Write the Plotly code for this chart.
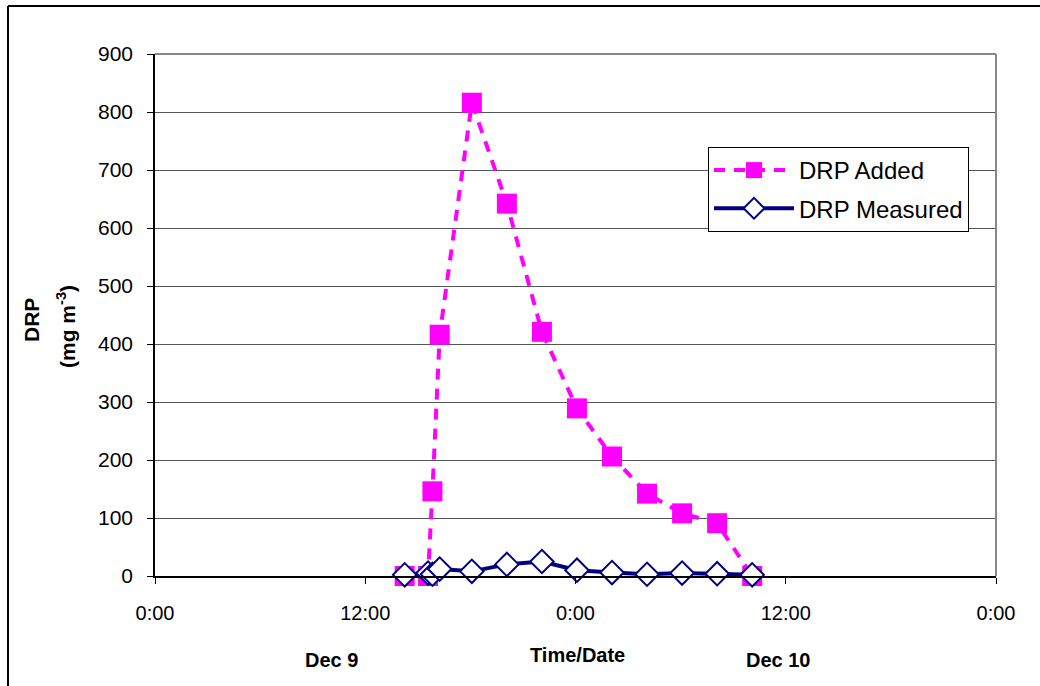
import plotly.graph_objects as go

# Data
added_times = ["2000-12-09 14:15", "2000-12-09 15:35", "2000-12-09 15:50", "2000-12-09 16:15",
               "2000-12-09 18:05", "2000-12-09 20:05", "2000-12-09 22:05", "2000-12-10 00:05",
               "2000-12-10 02:05", "2000-12-10 04:05", "2000-12-10 06:05", "2000-12-10 08:05",
               "2000-12-10 10:05"]
drp_added = [0, 0, 146, 416, 816, 642, 421, 289, 206, 142, 108, 91, 0]

measured_times = added_times
drp_measured = [2, 5, 3, 12, 8, 20, 25, 10, 6, 3, 5, 4, 2]

x_tick_vals = ["2000-12-09 00:00", "2000-12-09 12:00", "2000-12-10 00:00",
               "2000-12-10 12:00", "2000-12-11 00:00"]
x_tick_text = ["0:00", "12:00", "0:00", "12:00", "0:00"]
y_ticks = [0, 100, 200, 300, 400, 500, 600, 700, 800, 900]

FONT = "Liberation Sans, Arial, sans-serif"

fig = go.Figure()
fig.add_trace(go.Scatter(
    x=added_times, y=drp_added, name="DRP Added", mode="lines+markers",
    legendgroup="a", cliponaxis=False,
    line=dict(color="#FF00FF", width=4, dash="11px,9px"),
    marker=dict(symbol="square", size=20, color="#FF00FF"),
))
fig.add_trace(go.Scatter(
    x=measured_times, y=drp_measured, name="DRP Measured", mode="lines+markers",
    legendgroup="b", cliponaxis=False,
    line=dict(color="#000080", width=4),
    marker=dict(symbol="diamond", size=18, color="white",
                line=dict(color="#000080", width=2)),
))

L, R, T, B = 155, 44, 54, 110
W, H = 1040, 686
pw, ph = W - L - R, H - T - B

def px(x):
    return (x - L) / pw

def py(y):
    return (H - B - y) / ph

fig.update_layout(
    width=W, height=H,
    margin=dict(l=L, r=R, t=T, b=B),
    paper_bgcolor="white", plot_bgcolor="white",
    font=dict(family=FONT, size=20, color="black"),
    showlegend=True,
    legend=dict(
        x=px(708), y=py(147), xanchor="left", yanchor="top",
        bgcolor="white", bordercolor="black", borderwidth=1,
        font=dict(family=FONT, size=24),
        itemwidth=80, tracegroupgap=4,
    ),
    xaxis=dict(
        type="date",
        range=["2000-12-09 00:00", "2000-12-11 00:00"],
        tickmode="array", tickvals=x_tick_vals, ticktext=x_tick_text,
        ticks="outside", ticklen=6, tickcolor="black", tickwidth=1,
        showline=True, linecolor="black", linewidth=1.5,
        showgrid=False, zeroline=False,
        tickfont=dict(family=FONT, size=20),
        ticklabelstandoff=12,
    ),
    yaxis=dict(
        range=[0, 900], tickmode="array", tickvals=y_ticks,
        ticks="outside", ticklen=6, tickcolor="black", tickwidth=1,
        showline=True, linecolor="black", linewidth=1.5,
        showgrid=True, gridcolor="#555555", gridwidth=1,
        zeroline=False,
        tickfont=dict(family=FONT, size=21),
        ticklabelstandoff=10,
    ),
)

# Plot area top/right border (gray)
fig.add_shape(type="line", xref="paper", yref="paper", x0=0, x1=1, y0=1, y1=1,
              line=dict(color="#888888", width=2))
fig.add_shape(type="line", xref="paper", yref="paper", x0=1, x1=1, y0=0, y1=1,
              line=dict(color="#888888", width=2))
# Outer chart border (top and left visible)
fig.add_shape(type="line", xref="paper", yref="paper", x0=px(8), x1=px(1050),
              y0=py(6), y1=py(6), line=dict(color="black", width=2))
fig.add_shape(type="line", xref="paper", yref="paper", x0=px(8), x1=px(8),
              y0=py(6), y1=py(700), line=dict(color="black", width=2))

def note(text, x, y, size=20, angle=0):
    fig.add_annotation(text=text, xref="paper", yref="paper", x=px(x), y=py(y),
                       xanchor="center", yanchor="middle", textangle=angle,
                       showarrow=False, font=dict(family=FONT, size=size))

# Axis titles
note("<b>DRP</b>", 31, 320, size=21, angle=-90)
note("<b>(mg m<sup>-3</sup>)</b>", 66, 327, size=21, angle=-90)
note("<b>Dec 9</b>", 331, 660, size=20)
note("<b>Time/Date</b>", 577, 655, size=20)
note("<b>Dec 10</b>", 778, 660, size=20)

fig.write_html("out.html")
